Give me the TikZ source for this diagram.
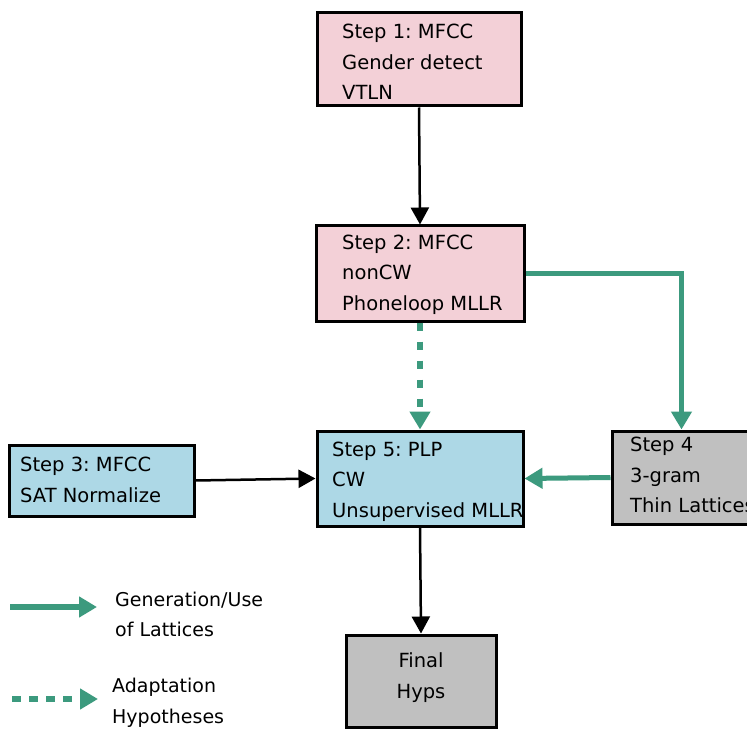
\documentclass[tikz,border=0pt]{standalone}
\usepackage{fontspec}
\setmainfont{DejaVu Sans}
\usetikzlibrary{arrows.meta}
\definecolor{latgreen}{RGB}{60,154,126}
\definecolor{stepPink}{RGB}{243,208,215}
\definecolor{stepBlue}{RGB}{173,216,230}
\definecolor{stepGray}{RGB}{192,192,192}
\frenchspacing
\begin{document}
\begin{tikzpicture}[x=1pt,y=-1pt,
  stepbox/.style={draw=black, line width=3pt, inner sep=0pt},
  steptext/.style={anchor=west, align=left, inner sep=0pt,
    font=\fontsize{19.5}{30.5}\selectfont},
  legtext/.style={steptext, font=\fontsize{19}{30.5}\selectfont},
  flow/.style={line width=2.5pt, -{Triangle[length=17pt,width=18pt]}},
  lattice/.style={draw=latgreen, line width=5pt, -{Triangle[length=18pt,width=20pt]}},
  adapt/.style={lattice, line width=6pt, dash pattern=on 8pt off 11pt}]
\clip (0,0) rectangle (747,730);
\fill[white] (0,0) rectangle (747,730);

% processing steps
\node[stepbox, fill=stepPink, minimum width=204pt, minimum height=93pt] (s1) at (419,59.5) {};
\node[stepbox, fill=stepPink, minimum width=208pt, minimum height=95pt] (s2) at (420,273.5) {};
\node[stepbox, fill=stepBlue, minimum width=185pt, minimum height=71pt] (s3) at (101.5,480.5) {};
\node[stepbox, fill=stepBlue, minimum width=206pt, minimum height=95pt] (s5) at (420,478.5) {};
\node[stepbox, fill=stepGray, minimum width=139pt, minimum height=93pt] (s4) at (681.5,477.5) {};
\node[stepbox, fill=stepGray, minimum width=150pt, minimum height=92pt] (fin) at (421,681) {};

% box contents
\node[steptext] (t1) at (342,62) {Step 1: MFCC\\Gender detect\\VTLN};
\node[steptext] (t2) at (342,274.5) {Step 2: MFCC\\nonCW\\Phoneloop MLLR};
\node[steptext] (t3) at (20,480) {Step 3: MFCC\\SAT Normalize};
\node[steptext] (t5) at (332,481.5) {Step 5: PLP\\CW\\Unsupervised MLLR};
\node[steptext] (t4) at (630,475) {Step 4\\3-gram\\Thin Lattices};
\node[steptext, anchor=center, align=center] (tf) at (421,677.5) {Final\\Hyps};

% connectors
\draw[flow] (s1.south) -- (s2.north);
\draw[lattice] (s2.east) -| (s4.north);
\draw[adapt] (s2.south) -- (s5.north);
\draw[flow] (s3.east) -- (s5.west);
\draw[lattice] (s4.west) -- (s5.east);
\draw[flow] (s5.south) -- (fin.north);

% legend
\coordinate (la) at (10,607);
\coordinate (lb) at (97,607);
\coordinate (lc) at (12,699);
\coordinate (ld) at (98,699);
\draw[lattice, line width=6pt] (la) -- (lb);
\draw[adapt, dash pattern=on 9pt off 8pt] (lc) -- (ld);
\node[legtext] (lg1) at (115,614.5) {Generation/Use\\of Lattices};
\node[legtext] (lg2) at (112,703) {Adaptation\\Hypotheses};
\end{tikzpicture}
\end{document}
